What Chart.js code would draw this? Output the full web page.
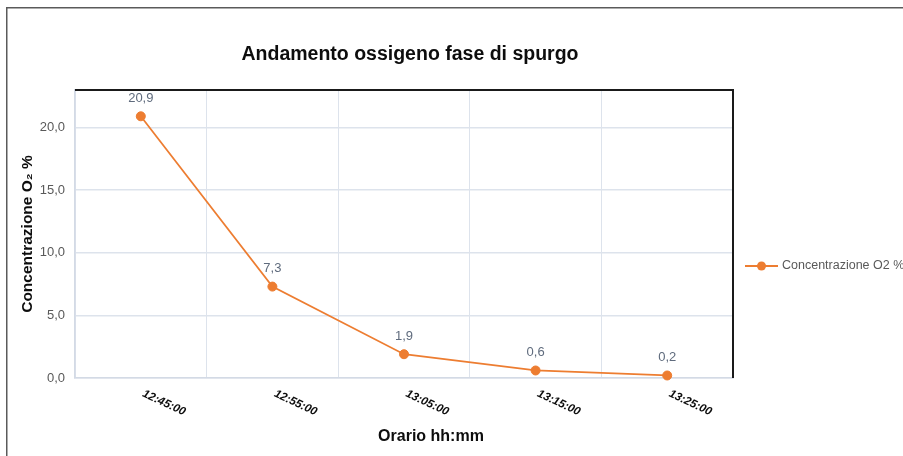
<!DOCTYPE html>
<html>
<head>
<meta charset="utf-8">
<script src="https://cdn.jsdelivr.net/npm/chart.js@4.4.1/dist/chart.umd.min.js"></script>
<style>
  html, body { margin: 0; padding: 0; background: #ffffff; }
  #wrap { width: 903px; height: 456px; position: relative; }
</style>
</head>
<body>
<div id="wrap"><canvas id="c" width="903" height="456"></canvas></div>
<script>
const chartTitle = 'Andamento ossigeno fase di spurgo';
const xAxisTitle = 'Orario hh:mm';
const yAxisTitle = 'Concentrazione O\u2082 %';
const seriesName = 'Concentrazione O2 %';
const categories = ['12:45:00', '12:55:00', '13:05:00', '13:15:00', '13:25:00'];
const o2Values = [20.9, 7.3, 1.9, 0.6, 0.2];
const yTickValues = [0, 5, 10, 15, 20];
const yMin = 0;
const yMax = 23;

const FONT = '"Liberation Sans", Arial, sans-serif';
const ORANGE = '#ed7d31';
const fmt = v => v.toFixed(1).replace('.', ',');

const decor = {
  id: 'decor',
  beforeDraw(chart) {
    const ctx = chart.ctx;
    ctx.save();
    ctx.fillStyle = '#ffffff';
    ctx.fillRect(0, 0, chart.width, chart.height);
    ctx.restore();
  },
  afterDatasetsDraw(chart) {
    const ctx = chart.ctx;
    const meta = chart.getDatasetMeta(0);
    const vals = chart.data.datasets[0].data;
    ctx.save();
    ctx.font = '13px ' + FONT;
    ctx.fillStyle = '#5f6b7d';
    ctx.textAlign = 'center';
    ctx.textBaseline = 'middle';
    meta.data.forEach((pt, i) => {
      ctx.fillText(fmt(vals[i]), pt.x, pt.y - 18);
    });
    ctx.restore();
  },
  afterDraw(chart) {
    const ctx = chart.ctx;
    const a = chart.chartArea;
    const xs = chart.scales.x;
    ctx.save();
    // outer frame
    ctx.strokeStyle = '#5a5a5a';
    ctx.lineWidth = 1.5;
    ctx.strokeRect(6.75, 7.75, 1200, 1200);
    // plot top & right border
    ctx.strokeStyle = '#1a1a1a';
    ctx.lineWidth = 2;
    ctx.beginPath();
    ctx.moveTo(a.left, a.top);
    ctx.lineTo(a.right, a.top);
    ctx.lineTo(a.right, a.bottom);
    ctx.stroke();
    // title
    ctx.fillStyle = '#0d0d0d';
    ctx.font = 'bold 19.5px ' + FONT;
    ctx.textAlign = 'center';
    ctx.textBaseline = 'middle';
    ctx.fillText(chartTitle, 410, 55);
    // x axis title
    ctx.font = 'bold 16px ' + FONT;
    ctx.fillText(xAxisTitle, 431, 437);
    // rotated x tick labels
    ctx.font = 'italic bold 11.5px ' + FONT;
    ctx.textAlign = 'left';
    ctx.textBaseline = 'alphabetic';
    ctx.fillStyle = '#0d0d0d';
    chart.data.labels.forEach((lab, i) => {
      const px = xs.getPixelForTick(i);
      ctx.save();
      ctx.translate(px + 1, a.bottom + 18);
      ctx.rotate(25 * Math.PI / 180);
      ctx.fillText(lab, 0, 0);
      ctx.restore();
    });
    // legend
    const ly = 266;
    ctx.strokeStyle = ORANGE;
    ctx.lineWidth = 2;
    ctx.beginPath();
    ctx.moveTo(745, ly);
    ctx.lineTo(778, ly);
    ctx.stroke();
    ctx.fillStyle = ORANGE;
    ctx.beginPath();
    ctx.arc(761.5, ly, 4.5, 0, Math.PI * 2);
    ctx.fill();
    ctx.fillStyle = '#595959';
    ctx.font = '12.5px ' + FONT;
    ctx.textBaseline = 'middle';
    ctx.fillText(chart.data.datasets[0].label, 782, ly);
    ctx.restore();
  }
};

new Chart(document.getElementById('c'), {
  type: 'line',
  data: {
    labels: categories,
    datasets: [{
      label: seriesName,
      data: o2Values,
      borderColor: ORANGE,
      backgroundColor: ORANGE,
      borderWidth: 1.75,
      pointRadius: 4.5,
      pointBorderWidth: 1,
      pointBackgroundColor: ORANGE,
      pointBorderColor: ORANGE,
      tension: 0,
      clip: false
    }]
  },
  options: {
    responsive: false,
    animation: false,
    devicePixelRatio: 1,
    layout: { padding: { top: 90, right: 170, bottom: 0, left: 0 } },
    plugins: {
      legend: { display: false },
      title: { display: false },
      tooltip: { enabled: false }
    },
    scales: {
      x: {
        offset: true,
        grid: {
          offset: true,
          color: '#dde3ec',
          lineWidth: 1,
          drawTicks: false
        },
        border: { display: true, color: '#d3dae5', width: 1.5 },
        ticks: { display: false },
        afterFit(s) { s.height = 78; }
      },
      y: {
        min: yMin,
        max: yMax,
        ticks: {
          stepSize: 5,
          padding: 10,
          color: '#595959',
          font: { family: FONT, size: 13 },
          callback: (v) => yTickValues.includes(v) ? fmt(v) : ''
        },
        grid: {
          drawTicks: false,
          color: (c) => (c.tick && yTickValues.includes(c.tick.value)) ? '#dde3ec' : 'rgba(0,0,0,0)',
          lineWidth: 1.5
        },
        border: { display: true, color: '#d3dae5', width: 1.5 },
        title: {
          display: true,
          text: yAxisTitle,
          color: '#0d0d0d',
          font: { family: FONT, size: 15.5, weight: 'bold' },
          padding: { top: 18, bottom: 0 }
        },
        afterFit(s) { s.width = 75; }
      }
    }
  },
  plugins: [decor]
});
</script>
</body>
</html>
